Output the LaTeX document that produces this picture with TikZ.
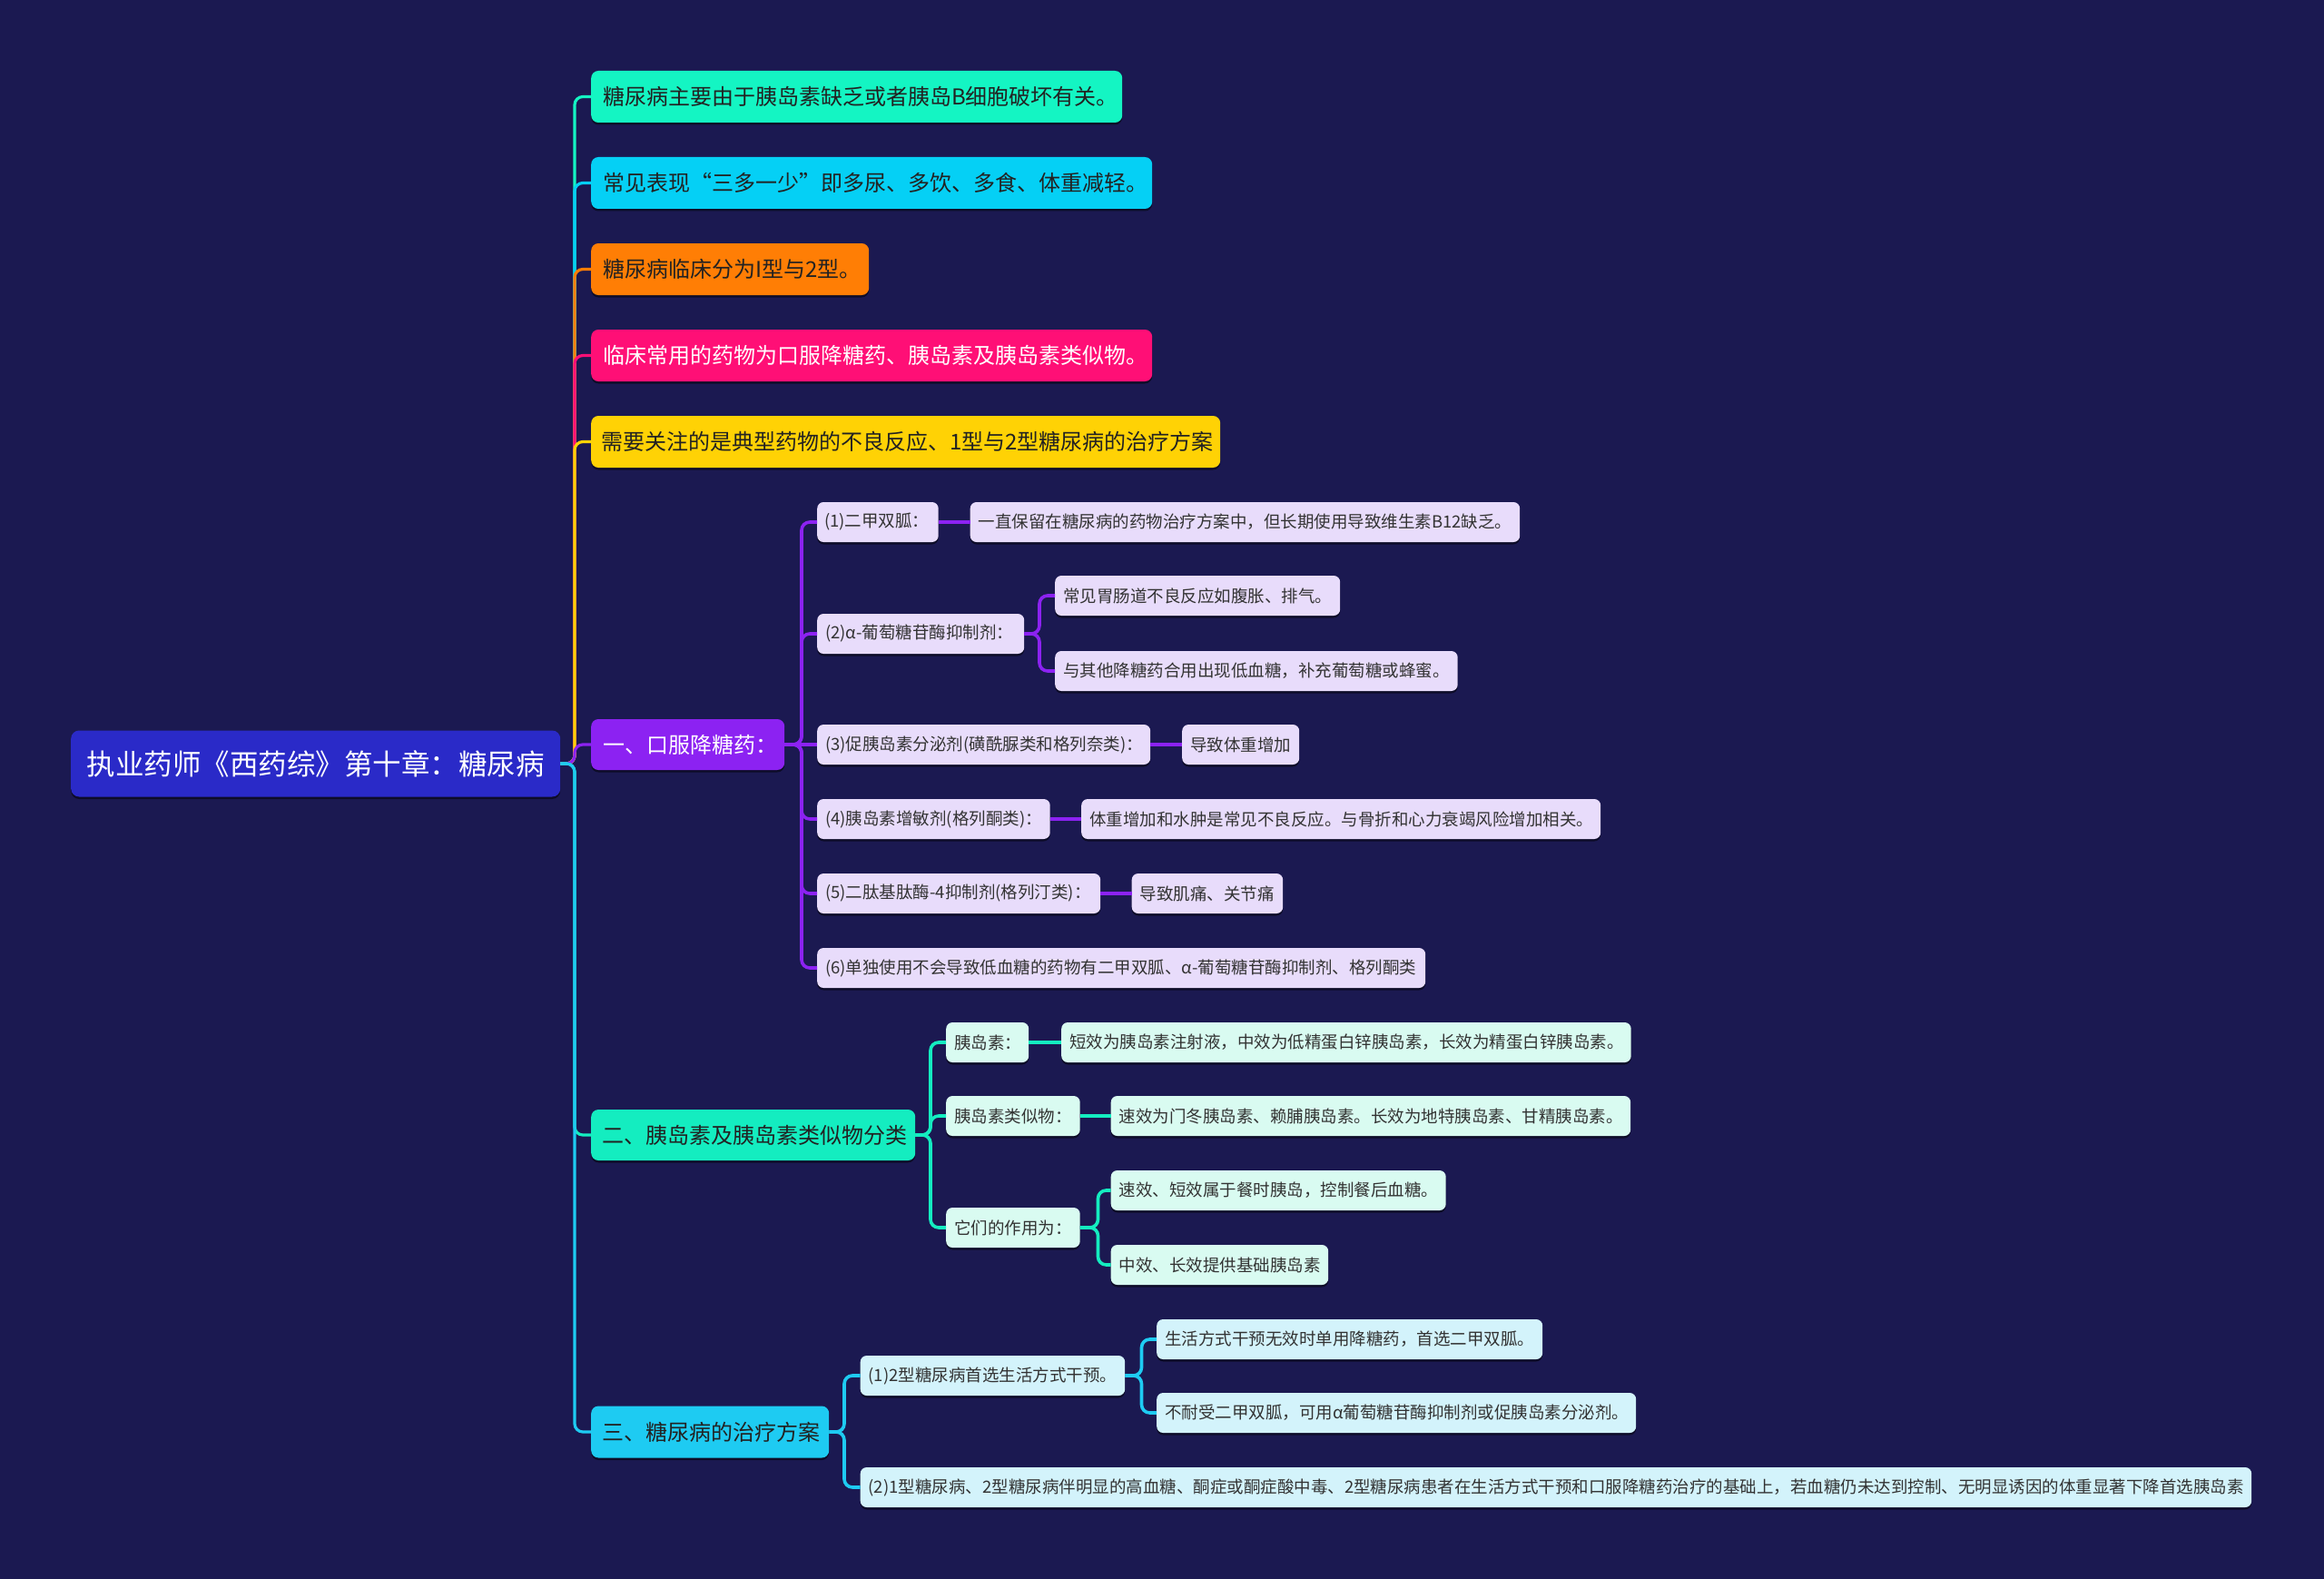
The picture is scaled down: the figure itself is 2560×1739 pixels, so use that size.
\documentclass[tikz,border=0pt]{standalone}
\usepackage{fontspec}
\setmainfont{Noto Sans CJK SC}
\usetikzlibrary{shadows}
\definecolor{bg}{HTML}{1B1951}
\definecolor{rootc}{HTML}{2A2AC8}
\definecolor{cA}{HTML}{14F5C3}
\definecolor{cB}{HTML}{05D0F5}
\definecolor{cC}{HTML}{FF7E05}
\definecolor{cD}{HTML}{FF0F76}
\definecolor{cE}{HTML}{FFD205}
\definecolor{cP}{HTML}{8C22F2}
\definecolor{cM}{HTML}{14EDC0}
\definecolor{cS}{HTML}{1ECBF2}
\definecolor{lP}{HTML}{E8DCFB}
\definecolor{lM}{HTML}{D9FBF1}
\definecolor{lS}{HTML}{D3F3FB}
\definecolor{txd}{HTML}{222222}
\definecolor{txg}{HTML}{333333}
\newcommand{\tx}[3]{\hspace*{#2pt}\makebox[\dimexpr#1pt-#2pt\relax][l]{#3}}
\tikzset{
  base/.style={anchor=west, inner xsep=0pt, inner ysep=0pt,
    drop shadow={shadow xshift=0pt, shadow yshift=-2.5pt, opacity=0.5, fill=black}},
  lvz/.style={base, rounded corners=9pt, minimum height=73pt, fill=rootc, text=white,
    font=\fontsize{31.5}{36}\selectfont},
  lvo/.style={base, rounded corners=8pt, minimum height=57pt, text=txd,
    font=\fontsize{24}{28}\selectfont},
  lvt/.style={base, rounded corners=7pt, minimum height=44pt, text=txg,
    font=\fontsize{18.5}{22}\selectfont},
  lnA/.style={line width=3.2pt, rounded corners=9pt},
  lnB/.style={line width=3.6pt, rounded corners=9pt},
  lnC/.style={line width=4.2pt},
}
\begin{document}
\begin{tikzpicture}[x=1pt, y=-1pt]
\fill[bg] (0,0) rectangle (2560,1739);
\useasboundingbox (0,0) rectangle (2560,1739);

% root
\node[lvz] (root) at (78,841) {\makebox[539pt][c]{执业药师《西药综》第十章：糖尿病}};

% level one
\node[lvo, fill=cA] (a1) at (651,106.5) {\tx{585}{13}{糖尿病主要由于胰岛素缺乏或者胰岛B细胞破坏有关。}};
\node[lvo, fill=cB] (a2) at (651,201.5) {\tx{618}{13}{常见表现“三多一少”即多尿、多饮、多食、体重减轻。}};
\node[lvo, fill=cC] (a3) at (651,296.5) {\tx{306}{13}{糖尿病临床分为I型与2型。}};
\node[lvo, fill=cD, text=white] (a4) at (651,391.5) {\tx{618}{13}{临床常用的药物为口服降糖药、胰岛素及胰岛素类似物。}};
\node[lvo, fill=cE] (a5) at (651,486.5) {\tx{693}{11}{需要关注的是典型药物的不良反应、1型与2型糖尿病的治疗方案}};
\node[lvo, fill=cP, text=white, minimum height=56pt] (b) at (651,820) {\tx{213}{13}{一、口服降糖药：}};
\node[lvo, fill=cM, minimum height=56pt] (c) at (651,1250) {\tx{357}{12}{二、胰岛素及胰岛素类似物分类}};
\node[lvo, fill=cS] (d) at (651,1577) {\tx{262}{12}{三、糖尿病的治疗方案}};

% branch one children
\node[lvt, fill=lP] (b1) at (900,575) {\tx{133.5}{8}{(1)二甲双胍：}};
\node[lvt, fill=lP] (b1a) at (1068.5,575) {\tx{605.5}{9}{一直保留在糖尿病的药物治疗方案中，但长期使用导致维生素B12缺乏。}};
\node[lvt, fill=lP] (b2) at (900,698) {\tx{228}{9}{(2)α-葡萄糖苷酶抑制剂：}};
\node[lvt, fill=lP] (b2a) at (1162,656) {\tx{314}{9}{常见胃肠道不良反应如腹胀、排气。}};
\node[lvt, fill=lP] (b2b) at (1162,739) {\tx{443.5}{9}{与其他降糖药合用出现低血糖，补充葡萄糖或蜂蜜。}};
\node[lvt, fill=lP] (b3) at (900,820) {\tx{367}{9}{(3)促胰岛素分泌剂(磺酰脲类和格列奈类)：}};
\node[lvt, fill=lP] (b3a) at (1302,820) {\tx{129}{9}{导致体重增加}};
\node[lvt, fill=lP] (b4) at (900,902) {\tx{256.5}{9}{(4)胰岛素增敏剂(格列酮类)：}};
\node[lvt, fill=lP] (b4a) at (1191,902) {\tx{572}{9}{体重增加和水肿是常见不良反应。与骨折和心力衰竭风险增加相关。}};
\node[lvt, fill=lP] (b5) at (900,984) {\tx{312}{9}{(5)二肽基肽酶-4抑制剂(格列汀类)：}};
\node[lvt, fill=lP] (b5a) at (1246.5,984) {\tx{166.5}{9}{导致肌痛、关节痛}};
\node[lvt, fill=lP] (b6) at (900,1066) {\tx{670}{9}{(6)单独使用不会导致低血糖的药物有二甲双胍、α-葡萄糖苷酶抑制剂、格列酮类}};

% branch two children
\node[lvt, fill=lM] (c1) at (1042,1148) {\tx{91}{9}{胰岛素：}};
\node[lvt, fill=lM] (c1a) at (1169,1148) {\tx{627.5}{9}{短效为胰岛素注射液，中效为低精蛋白锌胰岛素，长效为精蛋白锌胰岛素。}};
\node[lvt, fill=lM] (c2) at (1042,1229) {\tx{147.5}{9}{胰岛素类似物：}};
\node[lvt, fill=lM] (c2a) at (1223.5,1229) {\tx{572.5}{9}{速效为门冬胰岛素、赖脯胰岛素。长效为地特胰岛素、甘精胰岛素。}};
\node[lvt, fill=lM] (c3) at (1042,1352) {\tx{147.5}{9}{它们的作用为：}};
\node[lvt, fill=lM] (c3a) at (1223.5,1311) {\tx{369}{9}{速效、短效属于餐时胰岛，控制餐后血糖。}};
\node[lvt, fill=lM] (c3b) at (1223.5,1393) {\tx{239.5}{9}{中效、长效提供基础胰岛素}};

% branch three children
\node[lvt, fill=lS] (d1) at (947.5,1515) {\tx{291.5}{9}{(1)2型糖尿病首选生活方式干预。}};
\node[lvt, fill=lS] (d1a) at (1274,1475) {\tx{425}{9}{生活方式干预无效时单用降糖药，首选二甲双胍。}};
\node[lvt, fill=lS] (d1b) at (1274,1556) {\tx{528}{9}{不耐受二甲双胍，可用α葡萄糖苷酶抑制剂或促胰岛素分泌剂。}};
\node[lvt, fill=lS] (d2) at (947.5,1638) {\tx{1532.5}{9}{(2)1型糖尿病、2型糖尿病伴明显的高血糖、酮症或酮症酸中毒、2型糖尿病患者在生活方式干预和口服降糖药治疗的基础上，若血糖仍未达到控制、无明显诱因的体重显著下降首选胰岛素}};

% spine coordinates
\coordinate (rs) at (633,841);
\coordinate (bs) at (883,820);
\coordinate (b2s) at (1145,698);
\coordinate (cs) at (1025,1250);
\coordinate (c3s) at (1209.5,1352);
\coordinate (ds) at (930,1577);
\coordinate (d1s) at (1257.5,1515);

% root connectors (top to bottom)
\draw[lnA, draw=cA] (root.east) -- (rs) |- (a1.west);
\draw[lnA, draw=cB] (root.east) -- (rs) |- (a2.west);
\draw[lnA, draw=cC] (root.east) -- (rs) |- (a3.west);
\draw[lnA, draw=cD] (root.east) -- (rs) |- (a4.west);
\draw[lnA, draw=cE] (root.east) -- (rs) |- (a5.west);
\draw[lnA, draw=cP] (root.east) -- (rs) |- (b.west);
\draw[lnA, draw=cM] (root.east) -- (rs) |- (c.west);
\draw[lnA, draw=cS] (root.east) -- (rs) |- (d.west);

% branch one
\draw[lnB, draw=cP] (b.east) -- (bs) |- (b1.west);
\draw[lnB, draw=cP] (b.east) -- (bs) |- (b2.west);
\draw[lnB, draw=cP] (b.east) -- (b3.west);
\draw[lnB, draw=cP] (b.east) -- (bs) |- (b4.west);
\draw[lnB, draw=cP] (b.east) -- (bs) |- (b5.west);
\draw[lnB, draw=cP] (b.east) -- (bs) |- (b6.west);
\draw[lnC, draw=cP] (b1.east) -- (b1a.west);
\draw[lnB, draw=cP] (b2.east) -- (b2s) |- (b2a.west);
\draw[lnB, draw=cP] (b2.east) -- (b2s) |- (b2b.west);
\draw[lnC, draw=cP] (b3.east) -- (b3a.west);
\draw[lnC, draw=cP] (b4.east) -- (b4a.west);
\draw[lnC, draw=cP] (b5.east) -- (b5a.west);

% branch two
\draw[lnB, draw=cM] (c.east) -- (cs) |- (c1.west);
\draw[lnB, draw=cM] (c.east) -- (cs) |- (c2.west);
\draw[lnB, draw=cM] (c.east) -- (cs) |- (c3.west);
\draw[lnC, draw=cM] (c1.east) -- (c1a.west);
\draw[lnC, draw=cM] (c2.east) -- (c2a.west);
\draw[lnB, draw=cM] (c3.east) -- (c3s) |- (c3a.west);
\draw[lnB, draw=cM] (c3.east) -- (c3s) |- (c3b.west);

% branch three
\draw[lnB, draw=cS] (d.east) -- (ds) |- (d1.west);
\draw[lnB, draw=cS] (d.east) -- (ds) |- (d2.west);
\draw[lnB, draw=cS] (d1.east) -- (d1s) |- (d1a.west);
\draw[lnB, draw=cS] (d1.east) -- (d1s) |- (d1b.west);
\end{tikzpicture}
\end{document}
